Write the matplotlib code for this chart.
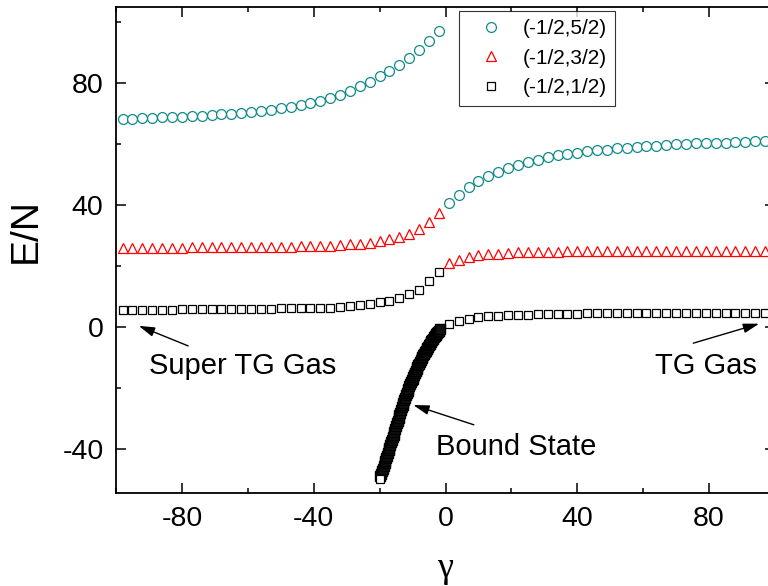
import matplotlib
matplotlib.use('Agg')
from matplotlib import pyplot as plt

plt.rcParams['font.family'] = ['Liberation Sans', 'DejaVu Sans']
plt.rcParams['axes.unicode_minus'] = False

# gamma grid of the three branches
gamma_neg = [-98, -95, -92, -89, -86, -83, -80, -77, -74, -71, -68, -65, -62, -59, -56, -53, -50,
             -47, -44, -41, -38, -35, -32, -29, -26, -23, -20, -17, -14, -11, -8, -5, -2]
gamma_pos = [1, 4, 7, 10, 13, 16, 19, 22, 25, 28, 31, 34, 37, 40, 43, 46, 49,
             52, 55, 58, 61, 64, 67, 70, 73, 76, 79, 82, 85, 88, 91, 94, 97]

# (-1/2,5/2)
circ_neg = [68.1, 68.2, 68.4, 68.5, 68.8, 68.9, 69.0, 69.2, 69.3, 69.5, 69.7, 70.0, 70.2, 70.5, 70.8, 71.3, 71.7,
            72.1, 72.7, 73.4, 74.1, 75.0, 76.0, 77.4, 78.9, 80.5, 82.2, 84.0, 86.0, 88.3, 91.0, 93.8, 97.0]
circ_pos = [40.7, 43.4, 45.8, 47.8, 49.4, 50.9, 52.1, 53.2, 54.2, 54.9, 55.6, 56.3, 56.8, 57.2, 57.6, 57.9, 58.2,
            58.6, 58.8, 59.0, 59.2, 59.4, 59.6, 59.9, 60.0, 60.2, 60.3, 60.4, 60.5, 60.6, 60.7, 60.9, 61.0]

# (-1/2,3/2)
tri_neg = [26.0, 26.0, 26.0, 26.0, 26.0, 26.0, 26.0, 26.1, 26.1, 26.1, 26.1, 26.1, 26.2, 26.2, 26.2, 26.3, 26.3,
           26.3, 26.4, 26.4, 26.5, 26.6, 26.7, 27.1, 27.3, 27.6, 28.2, 28.7, 29.5, 30.4, 32.2, 34.5, 37.5]
tri_pos = [20.9, 22.0, 22.8, 23.4, 23.8, 24.0, 24.2, 24.4, 24.5, 24.6, 24.7, 24.7, 24.8, 24.8, 24.8, 24.9, 24.9,
           24.9, 24.9, 24.9, 24.9, 24.9, 25.0, 25.0, 25.0, 25.0, 25.0, 25.0, 25.0, 25.0, 25.0, 25.0, 25.0]

# (-1/2,1/2)
sq_neg = [5.6, 5.6, 5.6, 5.6, 5.6, 5.6, 5.7, 5.7, 5.7, 5.7, 5.8, 5.8, 5.8, 5.8, 5.9, 5.9, 6.0,
          6.0, 6.1, 6.1, 6.2, 6.3, 6.4, 6.7, 7.1, 7.5, 8.0, 8.6, 9.4, 10.6, 12.2, 14.9, 17.9]
sq_pos = [0.9, 1.8, 2.5, 3.1, 3.4, 3.6, 3.8, 3.9, 4.0, 4.2, 4.2, 4.3, 4.3, 4.3, 4.4, 4.4, 4.4,
          4.4, 4.5, 4.5, 4.5, 4.5, 4.5, 4.6, 4.6, 4.6, 4.6, 4.6, 4.6, 4.6, 4.6, 4.6, 4.6]

# bound state branch (dense band of squares)
gamma_bound = [-20.0, -19.75, -19.5, -19.25, -19.0, -18.75, -18.5, -18.25, -18.0, -17.75, -17.5, -17.25,
               -17.0, -16.75, -16.5, -16.25, -16.0, -15.75, -15.5, -15.25, -15.0, -14.75, -14.5, -14.25,
               -14.0, -13.75, -13.5, -13.25, -13.0, -12.75, -12.5, -12.25, -12.0, -11.75, -11.5, -11.25,
               -11.0, -10.75, -10.5, -10.25, -10.0, -9.75, -9.5, -9.25, -9.0, -8.75, -8.5, -8.25,
               -8.0, -7.75, -7.5, -7.25, -7.0, -6.75, -6.5, -6.25, -6.0, -5.75, -5.5, -5.25,
               -5.0, -4.75, -4.5, -4.25, -4.0, -3.75, -3.5, -3.25, -3.0, -2.75, -2.5, -2.25, -2.0, -1.75]
e_bound = [-50.0, -49.1, -48.3, -47.4, -46.6, -45.7, -44.9, -44.0, -43.2, -42.3, -41.5, -40.6,
           -39.8, -38.9, -38.0, -37.2, -36.3, -35.4, -34.5, -33.5, -32.6, -31.7, -30.8, -29.9,
           -29.0, -28.2, -27.3, -26.5, -25.7, -24.9, -24.1, -23.3, -22.5, -21.8, -21.0, -20.3,
           -19.6, -18.9, -18.3, -17.6, -17.0, -16.4, -15.7, -15.1, -14.5, -13.9, -13.3, -12.7,
           -12.1, -11.5, -11.0, -10.4, -9.9, -9.4, -8.9, -8.4, -7.9, -7.4, -6.9, -6.5,
           -6.0, -5.6, -5.1, -4.7, -4.3, -3.9, -3.5, -3.1, -2.7, -2.3, -2.0, -1.6, -1.3, -0.9]

labels = ['(-1/2,5/2)', '(-1/2,3/2)', '(-1/2,1/2)']
teal = '#108a8a'

fig = plt.figure(figsize=(7.68, 5.86), dpi=100)
ax = fig.add_axes([116 / 768, 93 / 586, 659 / 768, 486 / 586])

ax.plot(gamma_neg + gamma_pos, circ_neg + circ_pos, 'o', ls='none', ms=7.1, mfc='white',
        mec=teal, mew=0.9, label=labels[0])
ax.plot(gamma_neg + gamma_pos, tri_neg + tri_pos, '^', ls='none', ms=7.3, mfc='white',
        mec='red', mew=0.9, label=labels[1])
ax.plot(gamma_neg + gamma_pos, sq_neg + sq_pos, 's', ls='none', ms=5.3, mfc='white',
        mec='black', mew=0.9, label=labels[2])
# band: squares overlap so closely it prints black; only the lowest one stays open
ax.plot(gamma_bound[1:], e_bound[1:], 's', ls='none', ms=7.0, mfc='#111111', mec='black', mew=1.0)
ax.plot(gamma_bound[:1], e_bound[:1], 's', ls='none', ms=5.3, mfc='white', mec='black', mew=0.9)

ax.set_xlim(-100, 100)
ax.set_ylim(-54.6, 105)
ax.set_xticks([-80, -40, 0, 40, 80])
ax.set_xticks([-100, -60, -20, 20, 60, 100], minor=True)
ax.set_yticks([-40, 0, 40, 80])
ax.set_yticks([-20, 20, 60, 100], minor=True)
ax.tick_params(which='both', direction='in', top=True, right=True, width=1.1, labelsize=20.5)
ax.tick_params(which='major', length=7)
ax.tick_params(which='minor', length=3.8)
ax.tick_params(axis='x', pad=9)
ax.tick_params(axis='y', pad=9)
for s in ax.spines.values():
    s.set_linewidth(1.3)

ax.set_xlabel('γ', family=['Liberation Serif', 'DejaVu Serif'], fontsize=26)
ax.xaxis.set_label_coords(0.499, -0.172)
ax.xaxis.label.set_va('baseline')
ax.set_ylabel('E/N', fontsize=28)
ax.yaxis.set_label_coords(-0.1366, 0.539)
ax.yaxis.label.set_va('center')

arrow = dict(arrowstyle='-|>,head_length=0.6,head_width=0.18', mutation_scale=16,
             color='black', lw=1.0, shrinkA=0, shrinkB=0)
ax.annotate('', xy=(-93.1, 0.3), xytext=(-78.1, -6.3), arrowprops=arrow)
ax.annotate('', xy=(95.2, 1.0), xytext=(75.2, -5.4), arrowprops=arrow)
ax.annotate('', xy=(-9.8, -25.7), xytext=(8.6, -32.2), arrowprops=arrow)
ax.text(-90, -15.6, 'Super TG Gas', fontsize=21, va='baseline', ha='left')
ax.text(63.6, -15.6, 'TG Gas', fontsize=21, va='baseline', ha='left')
ax.text(-3.0, -42.1, 'Bound State', fontsize=21, va='baseline', ha='left')

leg = ax.legend(loc='upper left', bbox_to_anchor=((459 - 116) / 659, 1 - 4 / 486),
                borderaxespad=0, fontsize=15, frameon=True, fancybox=False, numpoints=1,
                handlelength=2.3, handletextpad=0.35, borderpad=0.4, labelspacing=0.5)
leg.get_frame().set_edgecolor('black')
leg.get_frame().set_linewidth(0.8)

fig.savefig('out.png', dpi=100)
